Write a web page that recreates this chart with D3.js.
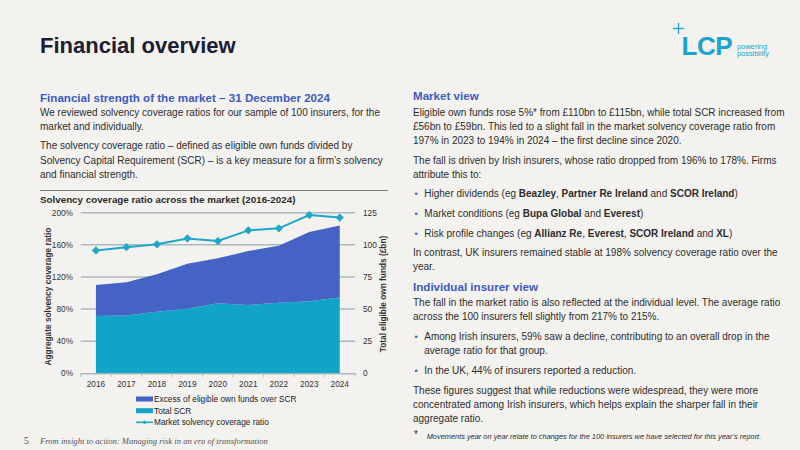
<!DOCTYPE html>
<html>
<head>
<meta charset="utf-8">
<script src="https://cdn.jsdelivr.net/npm/d3@7"></script>
<style>
  body { margin: 0; background: #f3f2ee; }
  svg { display: block; font-family: "Liberation Sans", Arial, sans-serif; }
</style>
</head>
<body>
<div id="chart-area"></div>
<script>
// chart data
var years = ['2016', '2017', '2018', '2019', '2020', '2021', '2022', '2023', '2024'];
var scr = [44.6, 44.9, 48, 50.3, 54.5, 53.2, 55, 56, 59];          // Total SCR, £bn
var excess = [24.1, 25.9, 29, 35, 35, 42, 44.3, 54, 56];          // excess of own funds over SCR, £bn
var ratio = [153, 157, 160.6, 168, 164.7, 178, 180.5, 197, 194];  // market solvency coverage ratio, %
var ratioTicks = [0, 40, 80, 120, 160, 200];
var fundTicks = [0, 25, 50, 75, 100, 125];
var legendItems = ['Excess of eligible own funds over SCR', 'Total SCR', 'Market solvency coverage ratio'];

var col = {
    bg: '#f3f2ee',
    title: '#1b2034',
    head: '#3b5bc1',
    text: '#2d2d2d',
    excess: '#4463c4',
    scr: '#0fa4c8',
    line: '#1ea7ca',
    grid: '#aab9bf',
    cyan: '#1aa3cc'
};

var W = 800, H = 450;
var svg = d3.select('#chart-area').append('svg')
    .attr('width', W)
    .attr('height', H);

svg.append('rect').attr('width', W).attr('height', H).attr('fill', col.bg);

// title
svg.append('text')
    .attr('x', 40).attr('y', 52.5)
    .attr('font-size', 22).attr('font-weight', 'bold')
    .attr('fill', col.title)
    .text('Financial overview');

// logo
var logo = svg.append('g');
logo.append('line').attr('x1', 673).attr('x2', 684).attr('y1', 28.5).attr('y2', 28.5)
    .attr('stroke', col.cyan).attr('stroke-width', 1.3);
logo.append('line').attr('x1', 678.5).attr('x2', 678.5).attr('y1', 23).attr('y2', 34)
    .attr('stroke', col.cyan).attr('stroke-width', 1.3);
logo.append('text').attr('x', 681.5).attr('y', 54.5)
    .attr('font-size', 26).attr('font-weight', 'bold').attr('letter-spacing', -0.5)
    .attr('fill', col.cyan).text('LCP');
logo.append('text').attr('x', 737).attr('y', 48.6)
    .attr('font-size', 7.4).attr('fill', col.cyan).text('powering');
logo.append('text').attr('x', 737).attr('y', 56.4)
    .attr('font-size', 7.4).attr('fill', col.cyan).text('possibility');

// text helper: segs = [[text, bold], ...]
function line(x, y, segs, opt) {
    opt = opt || {};
    var t = svg.append('text')
        .attr('x', x).attr('y', y)
        .attr('font-size', opt.size || 10)
        .attr('fill', opt.fill || col.text);
    if (opt.bold) t.attr('font-weight', 'bold');
    if (opt.italic) t.attr('font-style', 'italic');
    if (opt.family) t.attr('font-family', opt.family);
    if (typeof segs === 'string') segs = [[segs, false]];
    segs.forEach(function(s) {
        t.append('tspan')
            .attr('font-weight', s[1] ? 'bold' : null)
            .text(s[0]);
    });
    return t;
}
function bullet(y) {
    svg.append('text').attr('x', 414.5).attr('y', y)
        .attr('font-size', 9).attr('fill', col.head).text('•');
}

// left column
line(40, 101.5, 'Financial strength of the market – 31 December 2024', {size: 11.6, bold: true, fill: col.head});
line(40, 115.8, 'We reviewed solvency coverage ratios for our sample of 100 insurers, for the');
line(40, 130.2, 'market and individually.');
line(40, 149.2, 'The solvency coverage ratio – defined as eligible own funds divided by');
line(40, 164, 'Solvency Capital Requirement (SCR) – is a key measure for a firm’s solvency');
line(40, 178, 'and financial strength.');

// right column
var rx = 413, bx = 424.3;
line(rx, 100, 'Market view', {size: 11.6, bold: true, fill: col.head});
line(rx, 115.8, 'Eligible own funds rose 5%* from £110bn to £115bn, while total SCR increased from');
line(rx, 129.8, '£56bn to £59bn. This led to a slight fall in the market solvency coverage ratio from');
line(rx, 144, '197% in 2023 to 194% in 2024 – the first decline since 2020.');
line(rx, 163.8, 'The fall is driven by Irish insurers, whose ratio dropped from 196% to 178%. Firms');
line(rx, 177.8, 'attribute this to:');
bullet(197.2);
line(bx, 197.2, [['Higher dividends (eg '], ['Beazley', 1], [', '], ['Partner Re Ireland', 1], [' and '], ['SCOR Ireland', 1], [')']]);
bullet(217.2);
line(bx, 217.2, [['Market conditions (eg '], ['Bupa Global', 1], [' and '], ['Everest', 1], [')']]);
bullet(236.5);
line(bx, 236.5, [['Risk profile changes (eg '], ['Allianz Re', 1], [', '], ['Everest', 1], [', '], ['SCOR Ireland', 1], [' and '], ['XL', 1], [')']]);
line(rx, 256.2, 'In contrast, UK insurers remained stable at 198% solvency coverage ratio over the');
line(rx, 270.2, 'year.');
line(rx, 290.7, 'Individual insurer view', {size: 11.6, bold: true, fill: col.head});
line(rx, 306.2, 'The fall in the market ratio is also reflected at the individual level. The average ratio');
line(rx, 320.2, 'across the 100 insurers fell slightly from 217% to 215%.');
bullet(340.2);
line(bx, 340.2, 'Among Irish insurers, 59% saw a decline, contributing to an overall drop in the');
line(bx, 354.2, 'average ratio for that group.');
bullet(373.5);
line(bx, 373.5, 'In the UK, 44% of insurers reported a reduction.');
line(rx, 393.5, 'These figures suggest that while reductions were widespread, they were more');
line(rx, 407.8, 'concentrated among Irish insurers, which helps explain the sharper fall in their');
line(rx, 421.8, 'aggregate ratio.');
line(414, 437.5, '*', {size: 10});
line(426.7, 438.5, 'Movements year on year relate to changes for the 100 insurers we have selected for this year’s report.', {size: 7.4, italic: true});

// footer
line(24, 444, '5', {size: 9.5, family: '"Liberation Serif", "DejaVu Serif", serif', fill: '#444'});
line(40, 443.5, 'From insight to action: Managing risk in an era of transformation',
    {size: 8.6, italic: true, family: '"Liberation Serif", "DejaVu Serif", serif', fill: '#555'});

// ---- chart ----
svg.append('line').attr('x1', 40).attr('x2', 388).attr('y1', 190.5).attr('y2', 190.5)
    .attr('stroke', '#555').attr('stroke-width', 0.8);
line(40, 202.8, 'Solvency coverage ratio across the market (2016-2024)', {size: 9.8, bold: true, fill: '#2a2a2a'});

var plot = {left: 80.7, right: 355, top: 212.7, bottom: 373.3};

var x = d3.scaleBand().domain(years).range([plot.left, plot.right]).padding(0);
var cx = function(d) { return x(d) + x.bandwidth() / 2; };
var yR = d3.scaleLinear().domain([0, 200]).range([plot.bottom, plot.top]);
var yF = d3.scaleLinear().domain([0, 125]).range([plot.bottom, plot.top]);

// gridlines
svg.append('g').selectAll('line')
    .data(ratioTicks.filter(function(d) { return d > 0; }))
    .enter().append('line')
    .attr('x1', plot.left).attr('x2', plot.right)
    .attr('y1', function(d) { return yR(d); })
    .attr('y2', function(d) { return yR(d); })
    .attr('stroke', col.grid).attr('stroke-width', 1.5);

// stacked areas
var rows = years.map(function(yr, i) { return {year: yr, scr: scr[i], excess: excess[i]}; });
var stack = d3.stack().keys(['scr', 'excess'])(rows);
var area = d3.area()
    .x(function(d) { return cx(d.data.year); })
    .y0(function(d) { return yF(d[0]); })
    .y1(function(d) { return yF(d[1]); });
svg.append('g').selectAll('path')
    .data(stack)
    .enter().append('path')
    .attr('d', area)
    .attr('fill', function(d) { return d.key === 'scr' ? col.scr : col.excess; });

// x axis
var xAx = svg.append('g')
    .attr('transform', 'translate(0,' + plot.bottom + ')')
    .call(d3.axisBottom(x).tickSize(0).tickPadding(7.5));
xAx.select('.domain').attr('stroke', col.grid).attr('stroke-width', 1.5);
xAx.selectAll('text').attr('font-size', 8.3).attr('fill', '#333').attr('font-family', null);
svg.append('g').selectAll('line')
    .data(years.map(function(d) { return x(d); }).concat([plot.right]))
    .enter().append('line')
    .attr('x1', function(d) { return d; }).attr('x2', function(d) { return d; })
    .attr('y1', plot.bottom).attr('y2', plot.bottom + 3.5)
    .attr('stroke', col.grid).attr('stroke-width', 1);

// left axis
var yAxL = svg.append('g')
    .attr('transform', 'translate(' + plot.left + ',0)')
    .call(d3.axisLeft(yR).tickValues(ratioTicks).tickSize(0).tickPadding(7.7)
        .tickFormat(function(d) { return d + '%'; }));
yAxL.select('.domain').remove();
yAxL.selectAll('text').attr('font-size', 8.3).attr('fill', '#333').attr('font-family', null);

// right axis
var yAxR = svg.append('g')
    .attr('transform', 'translate(' + plot.right + ',0)')
    .call(d3.axisRight(yF).tickValues(fundTicks).tickSize(0).tickPadding(8));
yAxR.select('.domain').remove();
yAxR.selectAll('text').attr('font-size', 8.3).attr('fill', '#333').attr('font-family', null);

// axis titles
svg.append('text')
    .attr('transform', 'translate(51,296.5) rotate(-90)')
    .attr('text-anchor', 'middle').attr('font-size', 8.3).attr('font-weight', 'bold').attr('fill', '#333')
    .text('Aggregate solvency coverage ratio');
svg.append('text')
    .attr('transform', 'translate(386,294) rotate(-90)')
    .attr('text-anchor', 'middle').attr('font-size', 8.3).attr('font-weight', 'bold').attr('fill', '#333')
    .text('Total eligible own funds (£bn)');

// ratio line + diamonds
var ratioLine = d3.line()
    .x(function(d, i) { return cx(years[i]); })
    .y(function(d) { return yR(d); });
svg.append('path')
    .datum(ratio)
    .attr('d', ratioLine)
    .attr('fill', 'none').attr('stroke', col.line).attr('stroke-width', 2);
var diamond = d3.symbol().type(d3.symbolSquare).size(34);
svg.append('g').selectAll('path')
    .data(ratio)
    .enter().append('path')
    .attr('d', diamond)
    .attr('transform', function(d, i) { return 'translate(' + cx(years[i]) + ',' + yR(d) + ') rotate(45)'; })
    .attr('fill', col.line);

// legend
var legY = [399, 410.7, 422.3];
var legend = svg.append('g');
legendItems.forEach(function(name, i) {
    var row = legend.append('g').attr('transform', 'translate(136,' + legY[i] + ')');
    if (i < 2) {
        row.append('rect').attr('x', 0).attr('y', -2.5).attr('width', 17).attr('height', 5)
            .attr('fill', i === 0 ? col.excess : col.scr);
    } else {
        row.append('line').attr('x1', 0).attr('x2', 17).attr('y1', 0).attr('y2', 0)
            .attr('stroke', col.line).attr('stroke-width', 1.6);
        row.append('path').attr('d', d3.symbol().type(d3.symbolSquare).size(9))
            .attr('transform', 'translate(8.5,0) rotate(45)').attr('fill', col.line);
    }
    row.append('text').attr('x', 18).attr('y', 3)
        .attr('font-size', 8.3).attr('fill', '#222').text(name);
});
</script>
</body>
</html>
